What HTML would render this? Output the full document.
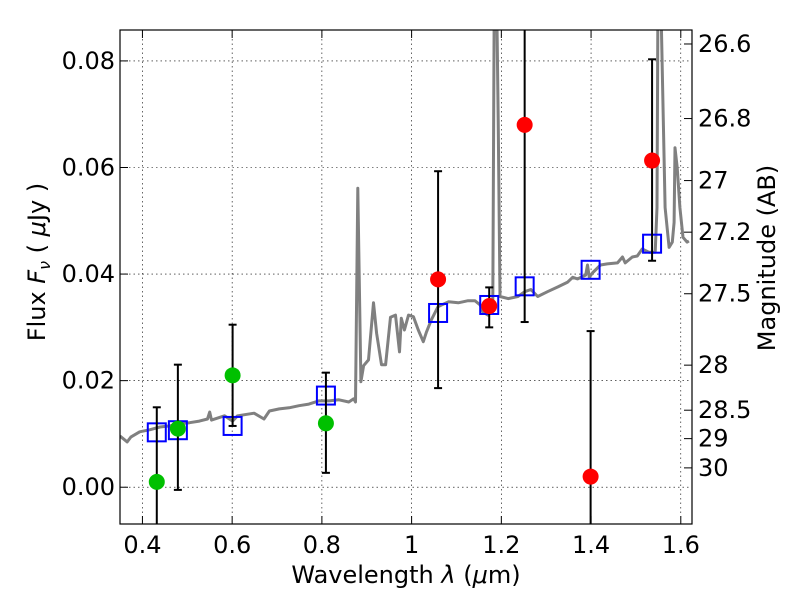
<!DOCTYPE html>
<html><head><meta charset="utf-8"><style>
body{margin:0;background:#fff;}
svg text{font-family:"DejaVu Sans","Liberation Sans",sans-serif;}
</style></head><body>
<svg id="chart" width="800" height="600" xmlns="http://www.w3.org/2000/svg" style="position:absolute;left:0;top:0"></svg>
<script>
const specWave=[0.350,0.366,0.374,0.394,0.417,0.439,0.461,0.483,0.505,0.527,0.545,0.550,0.554,0.583,0.601,0.612,0.649,0.671,0.683,0.705,0.727,0.749,0.771,0.793,0.816,0.838,0.860,0.871,0.875,0.880,0.887,0.893,0.904,0.915,0.922,0.933,0.942,0.953,0.964,0.973,0.977,0.984,0.993,1.004,1.015,1.026,1.033,1.044,1.059,1.082,1.104,1.126,1.141,1.153,1.159,1.170,1.177,1.181,1.184,1.190,1.193,1.197,1.215,1.237,1.252,1.266,1.281,1.303,1.326,1.348,1.359,1.370,1.388,1.392,1.396,1.403,1.421,1.436,1.459,1.470,1.476,1.492,1.503,1.514,1.529,1.543,1.547,1.549,1.556,1.561,1.565,1.574,1.581,1.585,1.587,1.592,1.598,1.605,1.614,1.618];
const specFlux=[0.0096,0.0085,0.0094,0.0104,0.0108,0.0113,0.0115,0.0119,0.0121,0.0124,0.0128,0.0141,0.0126,0.0134,0.0124,0.0134,0.0139,0.0128,0.0143,0.0147,0.0149,0.0153,0.0156,0.0162,0.0162,0.0164,0.0160,0.0166,0.0160,0.0561,0.0198,0.0228,0.0239,0.0346,0.0289,0.0230,0.0230,0.0319,0.0323,0.0254,0.0317,0.0295,0.0323,0.0320,0.0295,0.0273,0.0291,0.0314,0.0339,0.0348,0.0346,0.0350,0.0350,0.0342,0.0329,0.0323,0.0342,0.0348,0.0900,0.0900,0.0689,0.0358,0.0354,0.0358,0.0367,0.0371,0.0358,0.0367,0.0376,0.0385,0.0394,0.0391,0.0398,0.0417,0.0394,0.0402,0.0417,0.0419,0.0421,0.0432,0.0421,0.0432,0.0434,0.0447,0.0441,0.0441,0.0525,0.0900,0.0900,0.0689,0.0525,0.0450,0.0460,0.0497,0.0637,0.0600,0.0525,0.0469,0.0460,0.0462];
const bandWave=[0.432,0.479,0.601,0.809,1.059,1.173,1.252,1.399,1.536];
const modelFlux=[0.0103,0.0107,0.0115,0.0172,0.0327,0.0342,0.0377,0.0408,0.0457];
const obsFlux=[0.001,0.011,0.021,0.012,0.039,0.034,0.068,0.002,0.0613];
const errLow=[-0.02,-0.0005,0.0115,0.0027,0.0186,0.030,0.031,-0.02,0.0425];
const errHigh=[0.015,0.023,0.0305,0.0215,0.0593,0.0375,0.10,0.0293,0.0803];
const obsColor=['#00c000','#00c000','#00c000','#00c000','#ff0000','#ff0000','#ff0000','#ff0000','#ff0000'];
const xTicks=[0.4,0.6,0.8,1.0,1.2,1.4,1.6];
const xTickLabels=['0.4','0.6','0.8','1','1.2','1.4','1.6'];
const yTicks=[0,0.02,0.04,0.06,0.08];
const yTickLabels=['0.00','0.02','0.04','0.06','0.08'];
const magTicks=[26.6,26.8,27,27.2,27.5,28,28.5,29,30];
const magTickLabels=['26.6','26.8','27','27.2','27.5','28','28.5','29','30'];

const L=120,R=692,T=30,B=524;
const xmin=0.35,xmax=1.625,ymin=-0.0069,ymax=0.0858;
const X=v=>L+(v-xmin)/(xmax-xmin)*(R-L);
const Y=v=>B-(v-ymin)/(ymax-ymin)*(B-T);
const magToFlux=m=>Math.pow(10,(23.9-m)/2.5);
const NS='http://www.w3.org/2000/svg';
const svg=document.getElementById('chart');
function mk(tag,attrs,parent){const e=document.createElementNS(NS,tag);for(const k in attrs)e.setAttribute(k,attrs[k]);(parent||svg).appendChild(e);return e;}

const defs=mk('defs',{});
const cp=mk('clipPath',{id:'clip'},defs);
mk('rect',{x:L,y:T,width:R-L,height:B-T},cp);

const grid=mk('g',{stroke:'#000','stroke-width':0.6,'stroke-dasharray':'1.5,3'});


xTicks.forEach(v=>mk('line',{x1:X(v),x2:X(v),y1:T,y2:B},grid));
yTicks.forEach(v=>mk('line',{x1:L,x2:R,y1:Y(v),y2:Y(v)},grid));

const plot=mk('g',{'clip-path':'url(#clip)'});
let d='';
specWave.forEach((w,i)=>{d+=(i?'L':'M')+X(w).toFixed(1)+','+Y(specFlux[i]).toFixed(1);});
const spec=mk('path',{d:d,fill:'none',stroke:'#808080','stroke-width':3,'stroke-linejoin':'round'},plot);



bandWave.forEach((w,i)=>{
  const s=mk('rect',{x:X(w)-9,y:Y(modelFlux[i])-9,width:18,height:18,fill:'none',stroke:'#0000ff','stroke-width':2},plot);
  
  
});
bandWave.forEach((w,i)=>{
  const g=mk('g',{stroke:'#000','stroke-width':2},plot);
  
  
  const x=X(w);
  mk('line',{x1:x,x2:x,y1:Y(errLow[i]),y2:Y(errHigh[i])},g);
  mk('line',{x1:x-4,x2:x+4,y1:Y(errLow[i]),y2:Y(errLow[i])},g);
  mk('line',{x1:x-4,x2:x+4,y1:Y(errHigh[i]),y2:Y(errHigh[i])},g);
  const c=mk('circle',{cx:x,cy:Y(obsFlux[i]),r:8,fill:obsColor[i]},plot);
  
  
});

const frame=mk('rect',{x:L,y:T,width:R-L,height:B-T,fill:'none',stroke:'#000','stroke-width':1.2});



xTicks.forEach((v,i)=>{
  mk('line',{x1:X(v),x2:X(v),y1:B,y2:B-8,stroke:'#000'});
  mk('line',{x1:X(v),x2:X(v),y1:T,y2:T+8,stroke:'#000'});
  const t=mk('text',{x:X(v),y:B+29,'text-anchor':'middle','font-size':24});
  t.textContent=xTickLabels[i];
  
  
});
yTicks.forEach((v,i)=>{
  mk('line',{x1:L,x2:L+8,y1:Y(v),y2:Y(v),stroke:'#000'});
  const t=mk('text',{x:L-5,y:Y(v)+8,'text-anchor':'end','font-size':24});
  t.textContent=yTickLabels[i];
  
  
});
magTicks.forEach((m,i)=>{
  const y=Y(magToFlux(m));
  mk('line',{x1:R,x2:R-8,y1:y,y2:y,stroke:'#000'});
  const t=mk('text',{x:R+6,y:y+8,'font-size':24});
  t.textContent=magTickLabels[i];
  
  
});
</script>
<svg style="position:absolute;left:0;top:0" width="800" height="600" xmlns="http://www.w3.org/2000/svg">
<text x="406" y="583" text-anchor="middle" font-size="24" font-family="DejaVu Sans, sans-serif">Wavelength  <tspan font-style="italic">λ</tspan> (<tspan font-style="italic">μ</tspan>m)</text>
<text transform="translate(45,262) rotate(-90)" text-anchor="middle" font-size="24" font-family="DejaVu Sans, sans-serif">Flux  <tspan font-style="italic">F</tspan><tspan font-style="italic" font-size="16" dy="5">ν</tspan><tspan dy="-5">  ( </tspan><tspan font-style="italic">μ</tspan>Jy )</text>
<text transform="translate(775,258) rotate(-90)" text-anchor="middle" font-size="24" font-family="DejaVu Sans, sans-serif">Magnitude (AB)</text>
</svg>
</body></html>
